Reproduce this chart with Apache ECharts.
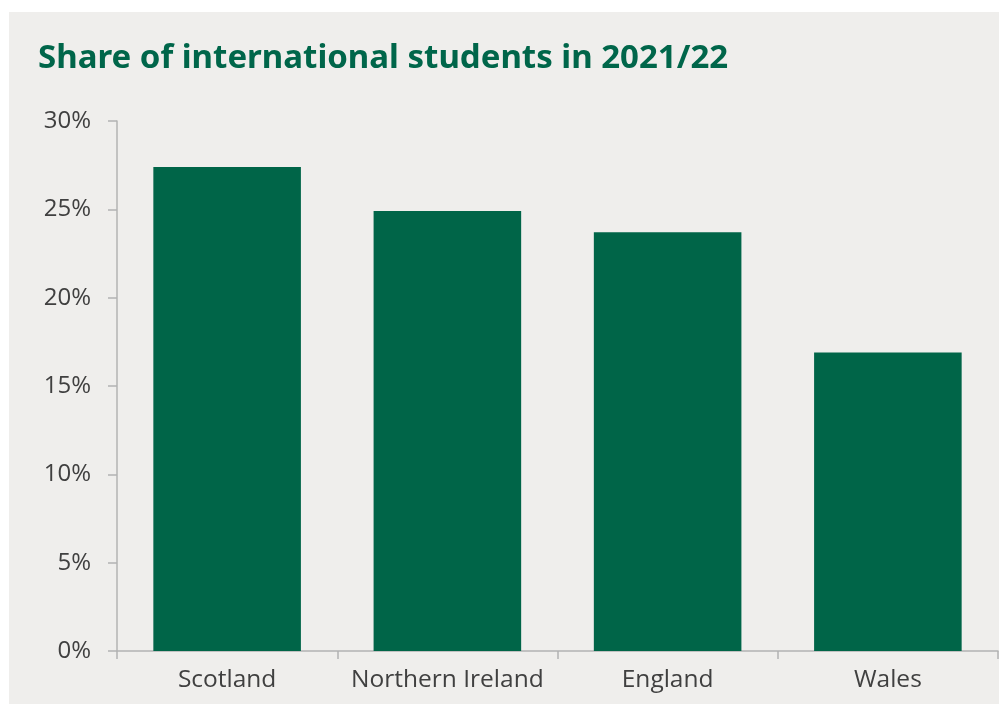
<!DOCTYPE html>
<html>
<head>
<meta charset="utf-8">
<script src="https://cdn.jsdelivr.net/npm/echarts@6/dist/echarts.min.js"></script>
<style>
  html, body { margin: 0; padding: 0; background: #ffffff; }
  #chart { position: absolute; left: 9px; top: 12px; width: 990px; height: 692px; background: #efeeec; }
</style>
</head>
<body>
<div id="chart"></div>
<script>
// 数据
var categories = ['Scotland', 'Northern Ireland', 'England', 'Wales'];
var shareValues = [27.4, 24.9, 23.7, 16.9];
var yTicks = [0, 5, 10, 15, 20, 25, 30];

var myChart = echarts.init(document.getElementById('chart'));

myChart.setOption({
    animation: false,
    title: {
        text: 'Share of international students in 2021/22',
        left: 24,
        top: 25,
        textStyle: {
            fontFamily: 'Noto Sans',
            fontWeight: 'bold',
            fontSize: 33,
            color: '#00664a'
        }
    },
    grid: {
        left: 108,
        right: 1,
        top: 109,
        bottom: 53,
        containLabel: false
    },
    xAxis: {
        type: 'category',
        data: categories,
        axisLine: { lineStyle: { color: '#b3b3b3', width: 1.5 } },
        axisTick: { show: true, length: 8, alignWithLabel: false, lineStyle: { color: '#b3b3b3', width: 1.5 } },
        axisLabel: {
            interval: 0,
            margin: 17,
            fontFamily: 'Open Sans',
            fontSize: 24.5,
            color: '#404040'
        }
    },
    yAxis: {
        type: 'value',
        min: yTicks[0],
        max: yTicks[yTicks.length - 1],
        interval: 5,
        axisLine: { show: true, lineStyle: { color: '#b3b3b3', width: 1.5 } },
        axisTick: { show: true, length: 9, lineStyle: { color: '#b3b3b3', width: 1.5 } },
        splitLine: { show: false },
        axisLabel: {
            margin: 26,
            fontFamily: 'Open Sans',
            fontSize: 24,
            color: '#404040',
            formatter: '{value}%'
        }
    },
    series: [
        {
            type: 'bar',
            data: shareValues,
            barWidth: '67%',
            itemStyle: { color: '#006548' }
        }
    ]
});
</script>
</body>
</html>
